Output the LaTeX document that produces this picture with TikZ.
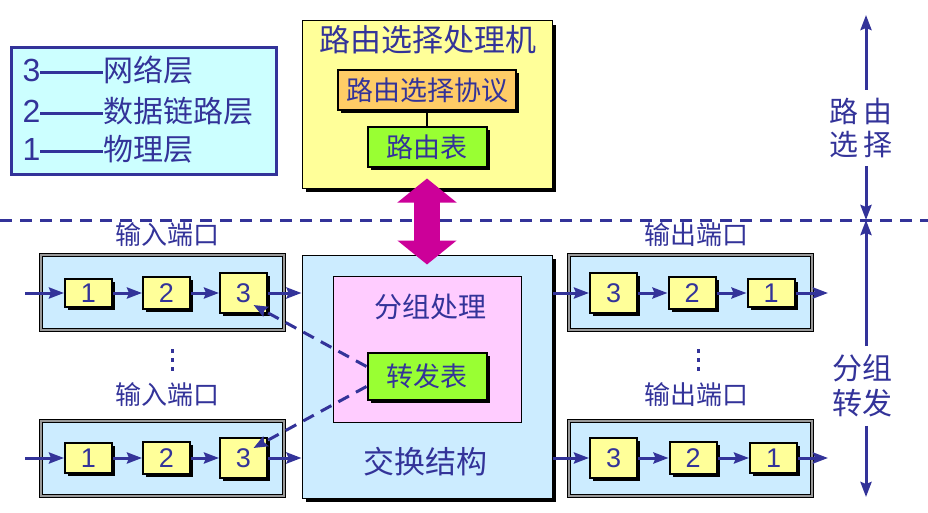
\documentclass[tikz,border=0pt]{standalone}
\usepackage{fontspec}
\setmainfont{Noto Sans CJK SC}
\newfontfamily\arial{Liberation Sans}
\usepackage{tikz}
\usetikzlibrary{arrows.meta}
\usetikzlibrary{shadows}
\definecolor{navy}{HTML}{333399}
\definecolor{legendfill}{HTML}{CCFFFF}
\definecolor{procfill}{HTML}{FFFF99}
\definecolor{protofill}{HTML}{FFCC66}
\definecolor{tablefill}{HTML}{99FF33}
\definecolor{fabfill}{HTML}{CCECFF}
\definecolor{pinkfill}{HTML}{FFCCFF}
\definecolor{bigarrow}{HTML}{CC0099}
\definecolor{portgray}{HTML}{999999}
\tikzstyle{flow}=[-{Stealth[length=15pt,width=11pt,inset=2pt]},draw=navy,line width=3pt]
\tikzstyle{dashflow}=[-{Stealth[length=14pt,width=11pt,inset=2pt]},draw=navy,line width=3pt,dash pattern=on 12pt off 8pt]
\tikzstyle{shade}=[drop shadow={shadow xshift=3pt,shadow yshift=-3pt,fill=black,opacity=1}]
\tikzstyle{blk}=[draw,line width=2pt,shade,inner sep=0pt,text=navy,font=\fontsize{27}{27}\selectfont]
\tikzstyle{numbox}=[blk,fill=procfill,minimum width=47pt,font=\arial\fontsize{27}{27}\selectfont]
\tikzstyle{port}=[draw,double=portgray,double distance=2pt,fill=fabfill,minimum width=243pt,minimum height=75pt]
\tikzstyle{lbl}=[text=navy,inner sep=0pt,font=\fontsize{26}{26}\selectfont]
\tikzset{every picture/.style={
    line width=1pt
  }
}

\begin{document}
\begin{tikzpicture}[x=1pt,y=-1pt]
  \useasboundingbox (0,0) rectangle (928,513);
  % legend
  \node[draw=navy,line width=3pt,fill=legendfill,minimum width=265pt,minimum height=127pt] (lg) at (144,111) {};
  \node[anchor=west,text=navy,inner sep=0pt,font=\fontsize{30}{30}\selectfont] (l3) at (22,70) {{\arial\fontsize{32}{32}\selectfont 3}\rule[7pt]{63pt}{3pt}网络层};
  \node[anchor=west,text=navy,inner sep=0pt,font=\fontsize{30}{30}\selectfont] (l2) at (22,111) {{\arial\fontsize{32}{32}\selectfont 2}\rule[7pt]{63pt}{3pt}数据链路层};
  \node[anchor=west,text=navy,inner sep=0pt,font=\fontsize{30}{30}\selectfont] (l1) at (22,149) {{\arial\fontsize{32}{32}\selectfont 1}\rule[7pt]{63pt}{3pt}物理层};

  \draw[navy,line width=3pt,dash pattern=on 12pt off 8pt] (0,220) -- (928,220);

  % routing processor
  \node[draw,fill=procfill,minimum width=250pt,minimum height=167pt,drop shadow={shadow xshift=4pt,shadow yshift=-4pt,fill=black,opacity=1}] (proc) at (427,104.5) {};
  \node[text=navy,font=\fontsize{31}{31}\selectfont] (proct) at (428,40) {路由选择处理机};
  \node[blk,fill=protofill,minimum width=178pt,minimum height=40pt] (proto) at (427,90) {路由选择协议};
  \node[blk,fill=tablefill,minimum width=119pt,minimum height=40pt] (rtab) at (427,147) {路由表};
  \draw[line width=2pt] (proto) -- (rtab);

  % switch fabric
  \node[draw,fill=fabfill,minimum width=250pt,minimum height=243pt,drop shadow={shadow xshift=4pt,shadow yshift=-4pt,fill=black,opacity=1}] (fab) at (427,376.5) {};
  \node[text=navy,font=\fontsize{31}{31}\selectfont] (fabt) at (425,462) {交换结构};
  \node[draw,fill=pinkfill,minimum width=188pt,minimum height=146pt] (pkt) at (427,349) {};
  \node[text=navy,font=\fontsize{28}{28}\selectfont] (pktt) at (430,307) {分组处理};
  \node[blk,fill=tablefill,minimum width=119pt,minimum height=47pt] (fwd) at (427,376.5) {转发表};

  \draw[bigarrow,line width=26pt,{Triangle[width=58pt,length=24pt]}-{Triangle[width=58pt,length=24pt]},shorten <=-10pt,shorten >=-10pt] (proc.south) -- (fab.north);

  % input ports
  \node[lbl] (inl1) at (167,235) {输入端口};
  \node[port] (in1) at (162.5,292.5) {};
  \node[numbox,minimum height=28pt] (a1) at (88.5,293) {1};
  \node[numbox,minimum height=32pt] (a2) at (166.5,293) {2};
  \node[numbox,minimum height=40pt] (a3) at (243.5,293) {3};
  \coordinate (ain) at (25,293);
  \draw[flow] (ain) -- (a1);
  \draw[flow] (a1) -- (a2);
  \draw[flow] (a2) -- (a3);
  \draw[flow] (a3.east) -- (a3.east -| fab.west);

  \node[lbl] (inl2) at (167,395) {输入端口};
  \node[port] (in2) at (162.5,458) {};
  \node[numbox,minimum height=30pt] (b1) at (88.5,458) {1};
  \node[numbox,minimum height=32pt] (b2) at (166.5,458) {2};
  \node[numbox,minimum height=40pt] (b3) at (243.5,458) {3};
  \coordinate (bin) at (25,458);
  \draw[flow] (bin) -- (b1);
  \draw[flow] (b1) -- (b2);
  \draw[flow] (b2) -- (b3);
  \draw[flow] (b3.east) -- (b3.east -| fab.west);

  % output ports
  \node[lbl] (outl1) at (696,235) {输出端口};
  \node[port] (out1) at (690,292.5) {};
  \node[numbox,minimum height=40pt] (c3) at (613.5,293) {3};
  \node[numbox,minimum height=32pt] (c2) at (692,293) {2};
  \node[numbox,minimum height=28pt] (c1) at (771,293) {1};
  \coordinate (cout) at (828,293);
  \draw[flow] (c3.west -| fab.east) -- (c3.west);
  \draw[flow] (c3) -- (c2);
  \draw[flow] (c2) -- (c1);
  \draw[flow] (c1) -- (cout);

  \node[lbl] (outl2) at (696,395) {输出端口};
  \node[port] (out2) at (690,458) {};
  \node[numbox,minimum height=40pt] (d3) at (613.5,458) {3};
  \node[numbox,minimum height=32pt] (d2) at (693,458) {2};
  \node[numbox,minimum height=30pt] (d1) at (773.5,458) {1};
  \coordinate (dout) at (828,458);
  \draw[flow] (d3.west -| fab.east) -- (d3.west);
  \draw[flow] (d3) -- (d2);
  \draw[flow] (d2) -- (d1);
  \draw[flow] (d1) -- (dout);

  % dots
  \fill[navy] (170.5,349) rectangle ++(3,4);
  \fill[navy] (170.5,358) rectangle ++(3,4);
  \fill[navy] (170.5,367) rectangle ++(3,4);
  \fill[navy] (696.5,349) rectangle ++(3,4);
  \fill[navy] (696.5,358) rectangle ++(3,4);
  \fill[navy] (696.5,367) rectangle ++(3,4);

  % forwarding table lookups
  \draw[dashflow] ([yshift=10pt]fwd.west) -- ([xshift=10pt,yshift=-12pt]a3.center);
  \draw[dashflow] ([yshift=-10pt]fwd.west) -- ([xshift=10pt,yshift=10pt]b3.center);

  % right side
  \coordinate (rtop) at (866,15);
  \coordinate (rmid) at (866,220);
  \coordinate (rbot) at (866,497);
  \node[text=navy,align=center,inner sep=8pt,font=\fontsize{29}{33}\selectfont] (rsel) at (861,128) {路\hspace{5pt}由\\选\hspace{5pt}择};
  \node[text=navy,align=center,inner sep=8pt,font=\fontsize{30}{35}\selectfont] (pfwd) at (862,386) {分组\\转发};
  \draw[flow] (rsel.north -| rtop) -- (rtop);
  \draw[flow] (rsel.south -| rtop) -- (rmid);
  \draw[flow] (pfwd.north -| rtop) -- (rmid);
  \draw[flow] (pfwd.south -| rtop) -- (rbot);
\end{tikzpicture}
\end{document}
